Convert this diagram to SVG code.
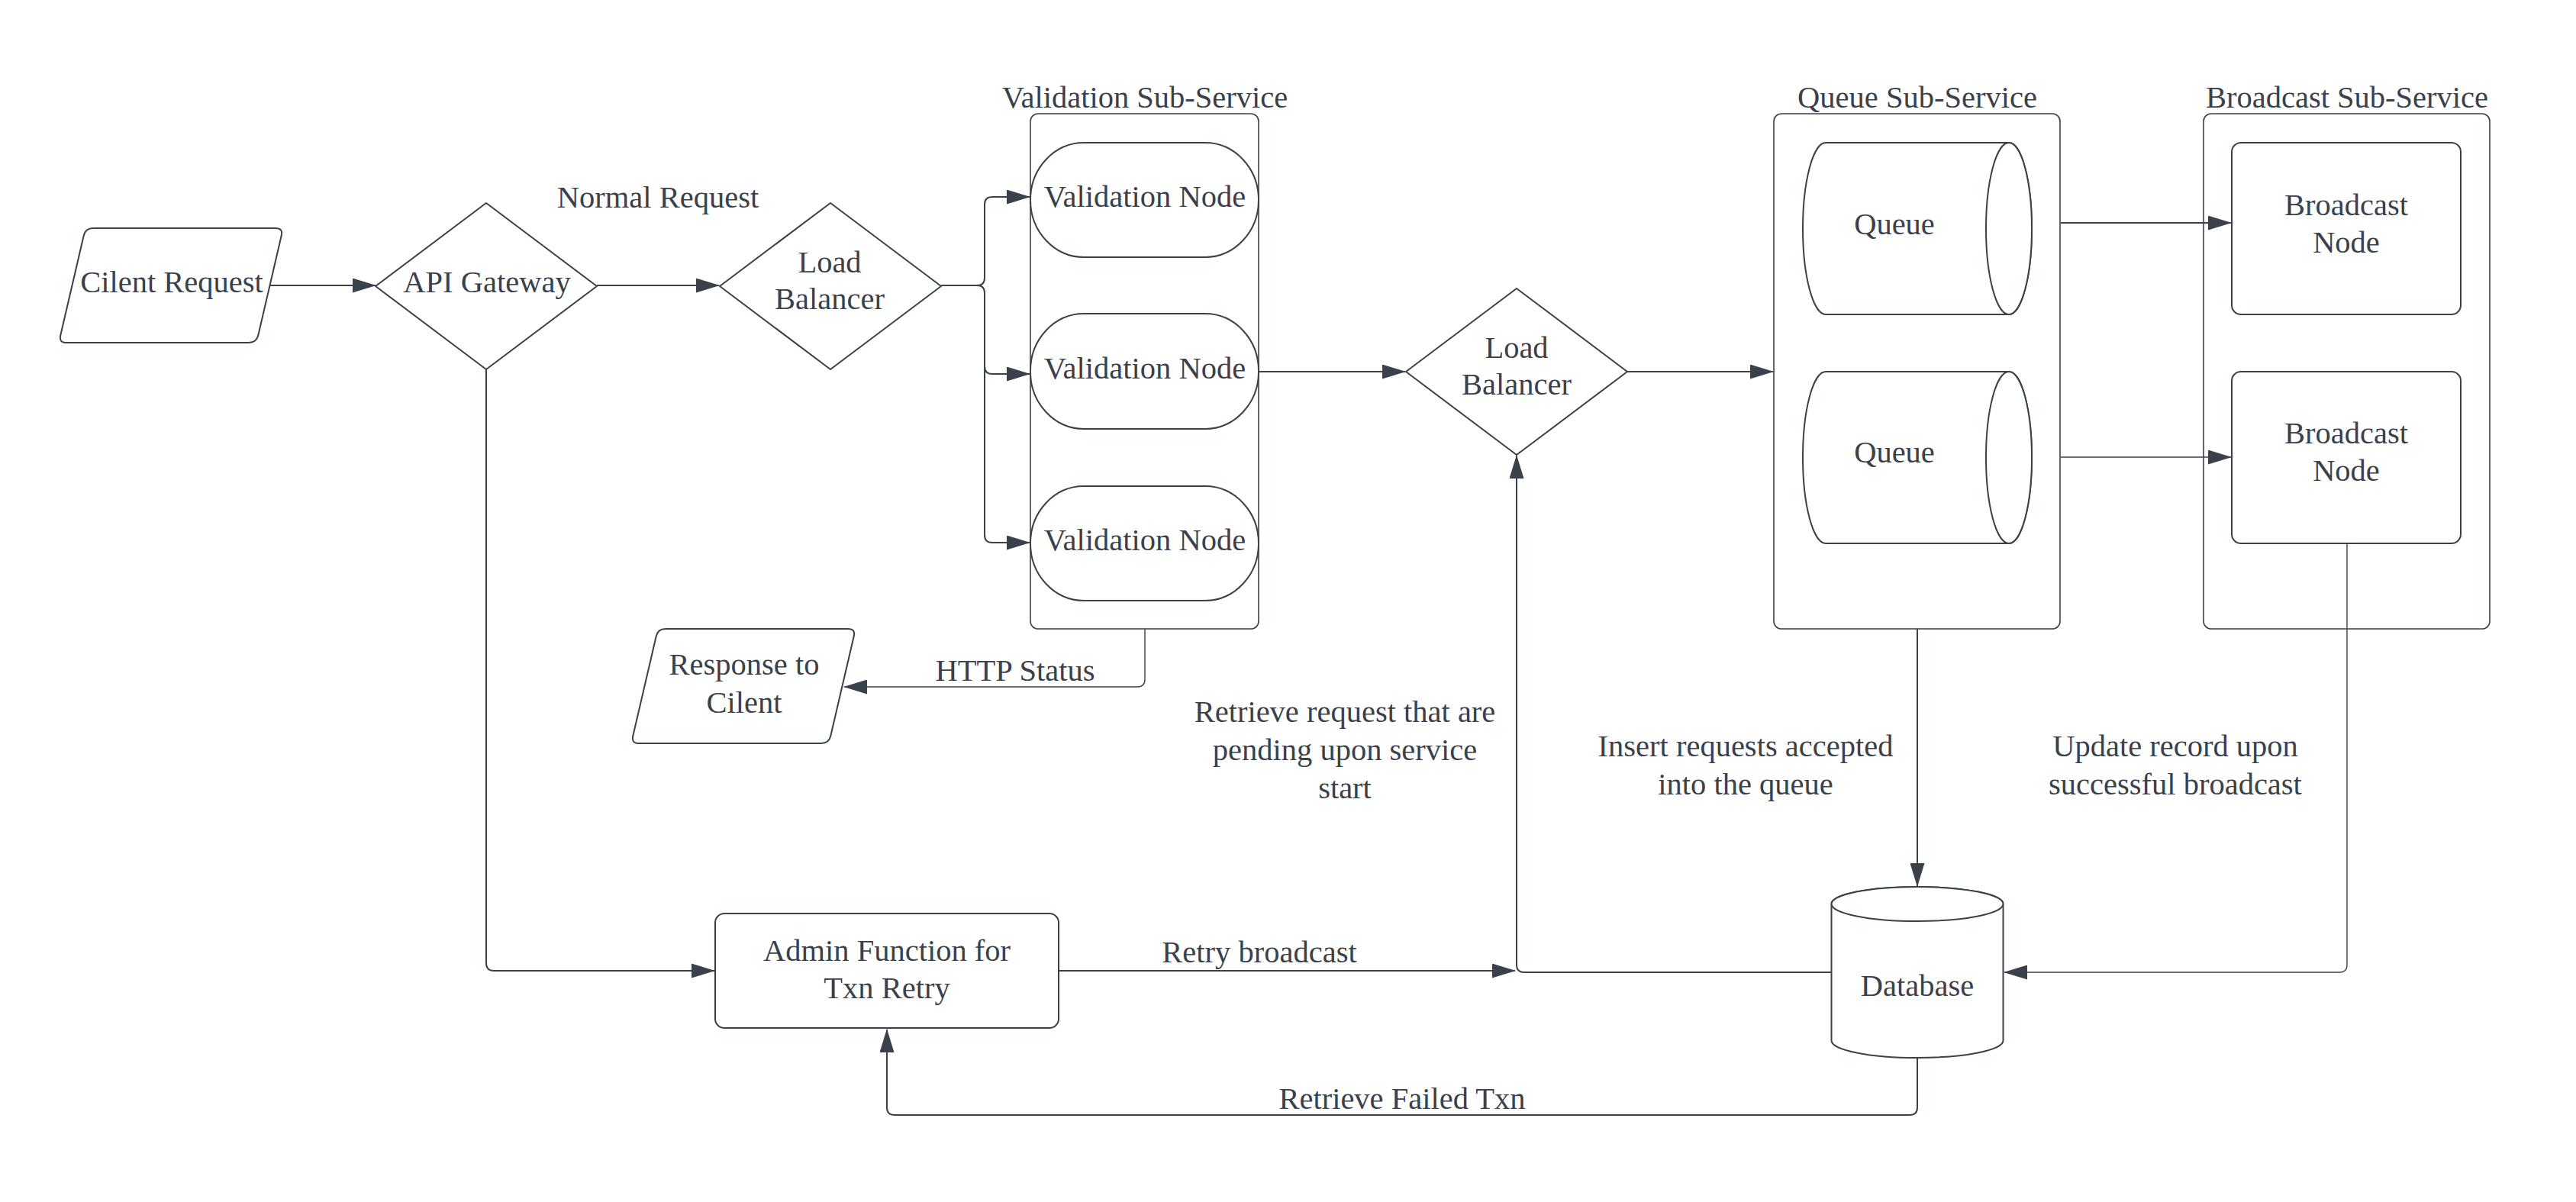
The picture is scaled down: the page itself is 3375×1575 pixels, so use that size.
<svg xmlns="http://www.w3.org/2000/svg" xmlns:xlink="http://www.w3.org/1999/xlink" width="3375" height="1575" viewBox="0 0 3375 1575">
<style>
.s{fill:#ffffff;stroke:#3a414a;stroke-width:2;stroke-linejoin:round}
.c{fill:#ffffff;stroke:#3a414a;stroke-width:1.6}
.e{fill:none;stroke:#3a414a;stroke-width:2;stroke-linejoin:round}
.e2{fill:none;stroke:#3a414a;stroke-width:1.4}
text{font-family:"Liberation Serif","Times New Roman",serif;font-size:40.5px;fill:#3a414a;text-anchor:middle}
</style>
<defs>
<marker id="ah" viewBox="0 0 31 19" refX="30" refY="9.5" markerWidth="31" markerHeight="19" markerUnits="userSpaceOnUse" orient="auto">
<path d="M0,0 L31,9.5 L0,19 Z" fill="#3a414a"/>
</marker>
<path id="para" d="M45,0 L284,0 Q294,0 291.7,9.7 L261.3,140.3 Q259,150 249,150 L10,150 Q0,150 2.3,140.3 L32.7,9.7 Q35,0 45,0 Z"/>
<path id="dia" d="M0,-109 L145,0 L0,109 L-145,0 Z"/>
</defs>
<rect width="3375" height="1575" fill="#ffffff"/>

<g id="validation-sub-service">
<rect class="c" x="1350" y="149" width="299" height="675" rx="10"/>
<text x="1500" y="141">Validation Sub-Service</text>
</g>
<g id="queue-sub-service">
<rect class="c" x="2324" y="149" width="375" height="675" rx="10"/>
<text x="2512" y="141">Queue Sub-Service</text>
</g>
<g id="broadcast-sub-service">
<rect class="c" x="2887" y="149" width="375" height="675" rx="10"/>
<text x="3075" y="141">Broadcast Sub-Service</text>
</g>

<g id="client-request">
<use href="#para" xlink:href="#para" class="s" x="77" y="299"/>
<text x="225" y="383">Cilent Request</text>
</g>

<g id="api-gateway">
<use href="#dia" xlink:href="#dia" class="s" x="637" y="375"/>
<text x="638" y="383">API Gateway</text>
</g>

<g id="load-balancer-1">
<use href="#dia" xlink:href="#dia" class="s" x="1088" y="375"/>
<text x="1087" y="357">Load</text>
<text x="1087" y="405">Balancer</text>
</g>

<g id="validation-node-1">
<rect class="s" x="1350" y="187" width="299" height="150" rx="70" ry="75"/>
<text x="1500" y="271">Validation Node</text>
</g>
<g id="validation-node-2">
<rect class="s" x="1350" y="411" width="299" height="151" rx="70" ry="75"/>
<text x="1500" y="496">Validation Node</text>
</g>
<g id="validation-node-3">
<rect class="s" x="1350" y="637" width="299" height="150" rx="70" ry="75"/>
<text x="1500" y="721">Validation Node</text>
</g>

<g id="load-balancer-2">
<use href="#dia" xlink:href="#dia" class="s" x="1987" y="487"/>
<text x="1987" y="469">Load</text>
<text x="1987" y="517">Balancer</text>
</g>

<g id="queue-1">
<path class="s" d="M2392,187 L2632,187 A30,112.5 0 0 1 2632,412 L2392,412 A30,112.5 0 0 1 2392,187 Z"/>
<ellipse class="s" cx="2632" cy="299.5" rx="30" ry="112.5"/>
<text x="2482" y="307">Queue</text>
</g>
<g id="queue-2">
<path class="s" d="M2392,487 L2632,487 A30,112.5 0 0 1 2632,712 L2392,712 A30,112.5 0 0 1 2392,487 Z"/>
<ellipse class="s" cx="2632" cy="599.5" rx="30" ry="112.5"/>
<text x="2482" y="606">Queue</text>
</g>

<g id="broadcast-node-1">
<rect class="s" x="2924" y="187" width="300" height="225" rx="12"/>
<text x="3074" y="282">Broadcast</text>
<text x="3074" y="331">Node</text>
</g>
<g id="broadcast-node-2">
<rect class="s" x="2924" y="487" width="300" height="225" rx="12"/>
<text x="3074" y="581">Broadcast</text>
<text x="3074" y="630">Node</text>
</g>

<g id="response-to-client">
<use href="#para" xlink:href="#para" class="s" x="827" y="824"/>
<text x="975" y="884">Response to</text>
<text x="975" y="934">Cilent</text>
</g>

<g id="admin-function">
<rect class="s" x="937" y="1197" width="450" height="150" rx="12"/>
<text x="1162" y="1259">Admin Function for</text>
<text x="1162" y="1308">Txn Retry</text>
</g>

<g id="database">
<path class="s" d="M2399.5,1184.5 L2399.5,1363.5 A112.5,22.5 0 0 0 2624.5,1363.5 L2624.5,1184.5 A112.5,22.5 0 0 0 2399.5,1184.5 Z"/>
<ellipse class="s" cx="2512" cy="1184.5" rx="112.5" ry="22.5"/>
<text x="2512" y="1305">Database</text>
</g>

<g id="connectors">
<path class="e" d="M354,374 L492,374" marker-end="url(#ah)"/>
<path class="e" d="M782,374 L942,374" marker-end="url(#ah)"/>
<path class="e" d="M1233,374 L1280,374 Q1290,374 1290,364 L1290,268 Q1290,258 1300,258 L1349,258" marker-end="url(#ah)"/>
<path class="e" d="M1280,374 Q1290,374 1290,384 L1290,480 Q1290,490 1300,490 L1349,490" marker-end="url(#ah)"/>
<path class="e" d="M1290,480 L1290,701 Q1290,711 1300,711 L1349,711" marker-end="url(#ah)"/>
<path class="e" d="M1649,487 L1841,487" marker-end="url(#ah)"/>
<path class="e" d="M2132,487 L2323,487" marker-end="url(#ah)"/>
<path class="e" d="M2700,292 L2923,292" marker-end="url(#ah)"/>
<path class="e2" d="M2700,599 L2923,599" marker-end="url(#ah)"/>
<path class="e" d="M2512,824 L2512,1161" marker-end="url(#ah)"/>
<path class="e2" d="M3075,712 L3075,1264 Q3075,1274 3065,1274 L2626,1274" marker-end="url(#ah)"/>
<path class="e" d="M2399,1274 L1997,1274 Q1987,1274 1987,1264 L1987,597" marker-end="url(#ah)"/>
<path class="e" d="M1387,1272 L1985,1272" marker-end="url(#ah)"/>
<path class="e" d="M637,483 L637,1262 Q637,1272 647,1272 L936,1272" marker-end="url(#ah)"/>
<path class="e" d="M2512,1386 L2512,1451 Q2512,1461 2502,1461 L1172,1461 Q1162,1461 1162,1451 L1162,1349" marker-end="url(#ah)"/>
<path class="e2" d="M1500,824 L1500,890 Q1500,900 1490,900 L1106,900" marker-end="url(#ah)"/>
<text x="862" y="272">Normal Request</text>
<text x="1330" y="892">HTTP Status</text>
<text x="1650" y="1261">Retry broadcast</text>
<text x="1762" y="946">Retrieve request that are</text>
<text x="1762" y="996">pending upon service</text>
<text x="1762" y="1046">start</text>
<text x="2287" y="991">Insert requests accepted</text>
<text x="2287" y="1041">into the queue</text>
<text x="2850" y="991">Update record upon</text>
<text x="2850" y="1041">successful broadcast</text>
<text x="1837" y="1453">Retrieve Failed Txn</text>
</g>
</svg>
